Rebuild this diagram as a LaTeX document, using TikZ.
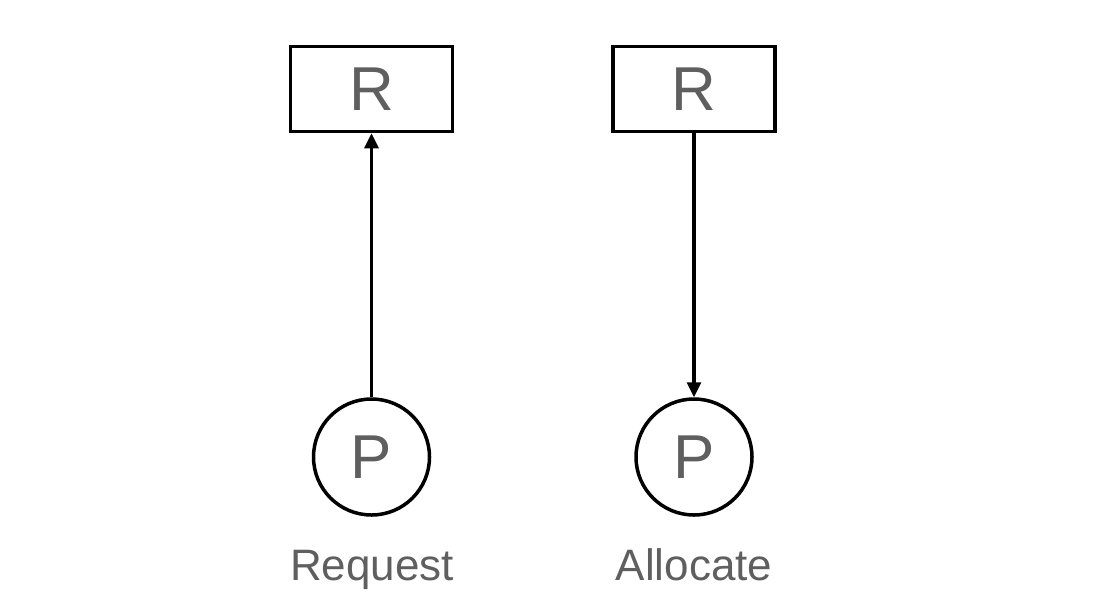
\documentclass[tikz,border=0pt]{standalone}
\usepackage{fontspec}
\setmainfont{Liberation Sans}
\usetikzlibrary{arrows.meta}
\definecolor{txtgray}{RGB}{95,95,95}
\tikzset{
  rbox/.style={draw=black, line width=3.5pt, minimum width=162pt, minimum height=85pt, inner sep=0pt, text=txtgray, font=\fontsize{62}{62}\selectfont},
  pcirc/.style={draw=black, line width=3.5pt, circle, minimum size=116pt, inner sep=0pt, text=txtgray, font=\fontsize{62}{62}\selectfont},
  lbl/.style={text=txtgray, font=\fontsize{44}{44}\selectfont, inner sep=0pt, anchor=base},
  conn/.style={line width=3.2pt, -{Triangle[length=15pt,width=14pt]}}
}
\begin{document}
\begin{tikzpicture}[x=1pt,y=-1pt]
\useasboundingbox (0,0) rectangle (1102,614);
\node[rbox] (r1) at (371.5,89) {R};
\node[rbox] (r2) at (694,89) {R};
\node[pcirc] (p1) at (371.5,457) {P};
\node[pcirc] (p2) at (694,457) {P};
\node[lbl] (l1) at (372,580) {Request};
\node[lbl] (l2) at (694,580) {Allocate};
\draw[conn] (p1) -- (r1);
\draw[conn] (r2) -- (p2);
\end{tikzpicture}
\end{document}
